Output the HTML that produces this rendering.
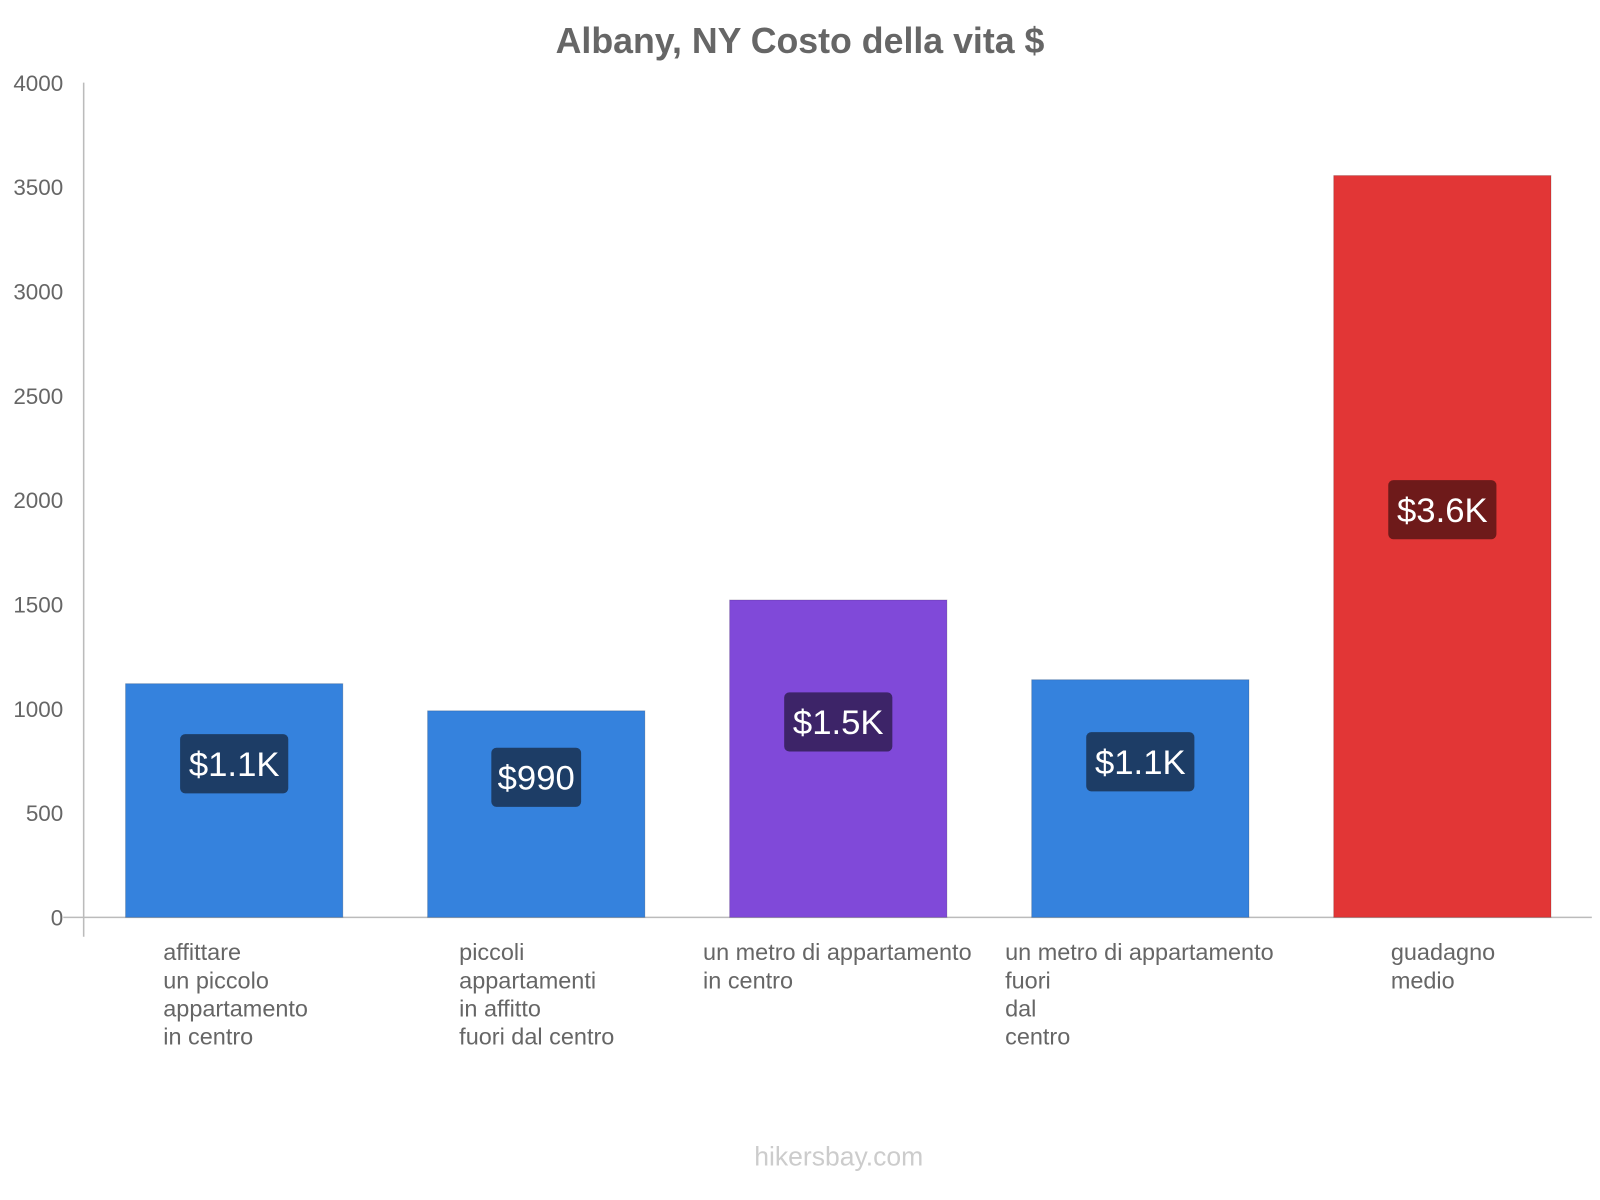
<!DOCTYPE html>
<html><head><meta charset="utf-8"><style>
body{margin:0;background:#fff;}
svg{display:block;}
svg text{font-family:"Liberation Sans",sans-serif;}
</style></head><body>
<svg id="chart" width="1600" height="1200" viewBox="0 0 1568 1176" preserveAspectRatio="none" xmlns="http://www.w3.org/2000/svg">
<text x="784" y="52" text-anchor="middle" font-size="35" font-weight="bold" fill="#666">Albany, NY Costo della vita $</text>
<g id="yaxis"></g>
<g id="bars"></g>
<g id="xlabels"></g>
<text x="822" y="1142" text-anchor="middle" font-size="26" fill="#ccc">hikersbay.com</text>
</svg>
<script>
const categories=[["affittare","un piccolo","appartamento","in centro"],["piccoli","appartamenti","in affitto","fuori dal centro"],["un metro di appartamento","in centro"],["un metro di appartamento","fuori","dal","centro"],["guadagno","medio"]];
const values=[1120,990,1521,1139,3555];
const valueLabels=["$1.1K","$990","$1.5K","$1.1K","$3.6K"];
const yTicks=[0,500,1000,1500,2000,2500,3000,3500,4000];
const colors=["#3582dd","#3582dd","#8049d9","#3582dd","#e23636"];
const labelBg=["#1d3d66","#1d3d66","#3d2468","#1d3d66","#6e1a1a"];
const labelX=[160,450,689,985,1363];
const NS="http://www.w3.org/2000/svg";
const y=v=>899-v*(818/4000);
const x0=i=>123+i*296, bw=213;
function mk(t,a,p){const e=document.createElementNS(NS,t);for(const k in a)e.setAttribute(k,a[k]);p.appendChild(e);return e;}
const ya=document.getElementById('yaxis');
let l=mk('line',{x1:82,y1:81,x2:82,y2:918,stroke:'#bbb','stroke-width':1.5},ya);


l=mk('line',{x1:62,y1:899,x2:1560,y2:899,stroke:'#bbb','stroke-width':1.5},ya);


yTicks.forEach(t=>{const tx=mk('text',{x:62,y:y(t)+8,'text-anchor':'end','font-size':22,fill:'#666'},ya);tx.textContent=t;

});
const bg=document.getElementById('bars');
values.forEach((v,i)=>{
const top=y(v),h=899-top;
const r=mk('rect',{x:x0(i),y:top,width:bw,height:h,fill:colors[i],stroke:'rgba(0,0,0,0.15)'},bg);


const cy=y(v/2)-36;
const w=valueLabels[i].length*18+16;
const br=mk('rect',{x:x0(i)+bw/2-w/2,y:cy-29,width:w,height:58,rx:5,fill:labelBg[i]},bg);


const t=mk('text',{x:x0(i)+bw/2,y:cy+12,'text-anchor':'middle','font-size':34,fill:'#fff'},bg);
t.textContent=valueLabels[i];


});
const xl=document.getElementById('xlabels');
categories.forEach((c,i)=>{c.forEach((s,j)=>{const t=mk('text',{x:labelX[i],y:941+j*27.6,'font-size':23,fill:'#666'},xl);t.textContent=s;

});});
</script>
</body></html>
